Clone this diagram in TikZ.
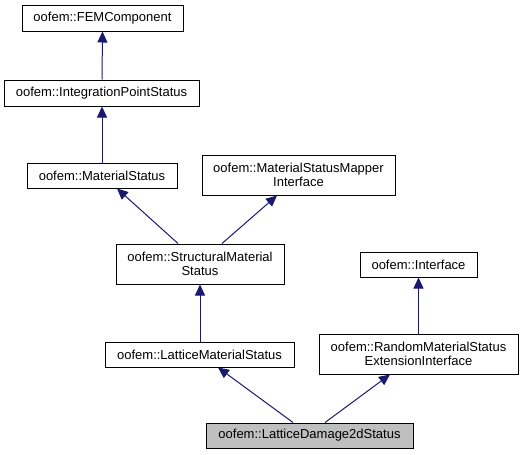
\documentclass[tikz,border=0pt]{standalone}
\usepackage{fontspec}
\setmainfont{Liberation Sans}
\usetikzlibrary{arrows.meta}
\definecolor{edgeblue}{HTML}{191970}
\definecolor{grayfill}{HTML}{BFBFBF}
\tikzset{
  cls/.style={draw=black, line width=1pt, rectangle, inner sep=0pt, align=center,
    font=\fontsize{13}{14}\selectfont, fill=white},
  inh/.style={draw=edgeblue, line width=1pt, -{Triangle[length=11pt,width=10pt]}}
}
\begin{document}
\begin{tikzpicture}[x=1pt,y=-1pt]
\useasboundingbox (0,0) rectangle (523,455);
\node[cls, minimum width=161pt, minimum height=26pt] (fem) at (102.5,18) {oofem::FEMComponent};
\node[cls, minimum width=195pt, minimum height=26pt] (ips) at (101.5,93) {oofem::IntegrationPointStatus};
\node[cls, minimum width=150pt, minimum height=25pt] (ms) at (102,175.5) {oofem::MaterialStatus};
\node[cls, minimum width=193pt, minimum height=40pt] (msmi) at (298.5,175) {oofem::MaterialStatusMapper\\Interface};
\node[cls, minimum width=168pt, minimum height=40pt] (sms) at (200,264) {oofem::StructuralMaterial\\Status};
\node[cls, minimum width=117pt, minimum height=25pt] (intf) at (418.5,264.5) {oofem::Interface};
\node[cls, minimum width=189pt, minimum height=25pt] (lms) at (199.5,354.5) {oofem::LatticeMaterialStatus};
\node[cls, minimum width=199pt, minimum height=40pt] (rmsei) at (418.5,354) {oofem::RandomMaterialStatus\\ExtensionInterface};
\node[cls, fill=grayfill, minimum width=207pt, minimum height=25pt] (ld) at (309.5,435.5) {oofem::LatticeDamage2dStatus};

\draw[inh] ([xshift=0.5pt]ips.north) -- (fem.south);
\draw[inh] (ms.north) -- ([xshift=0.5pt]ips.south);
\draw[inh] ([xshift=-22pt]sms.north) -- ([xshift=15pt]ms.south);
\draw[inh] ([xshift=22pt]sms.north) -- ([xshift=-21.5pt]msmi.south);
\draw[inh] ([xshift=0.5pt]lms.north) -- (sms.south);
\draw[inh] (rmsei.north) -- (intf.south);
\draw[inh] ([xshift=-16.5pt]ld.north) -- ([xshift=18.5pt]lms.south);
\draw[inh] ([xshift=15.5pt]ld.north) -- ([xshift=-28.5pt]rmsei.south);
\end{tikzpicture}
\end{document}
